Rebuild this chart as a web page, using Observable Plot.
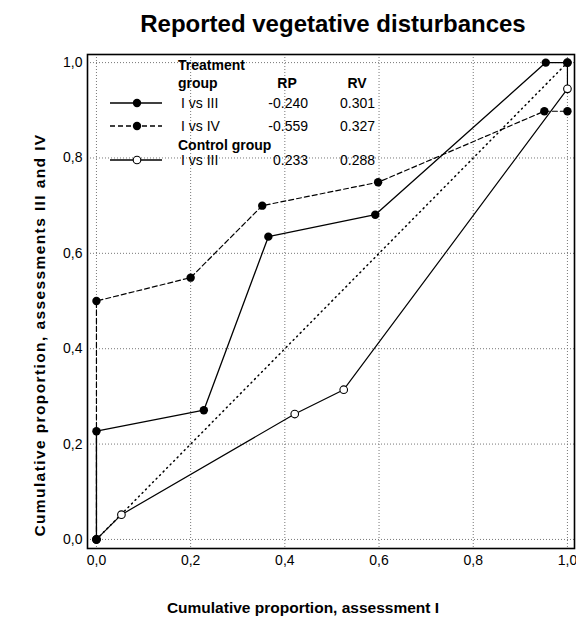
<!DOCTYPE html>
<html>
<head>
<meta charset="utf-8">
<script src="https://cdn.jsdelivr.net/npm/d3@7"></script>
<script src="https://cdn.jsdelivr.net/npm/@observablehq/plot@0.6"></script>
<style>
  html, body { margin: 0; padding: 0; background: #fff; }
  svg { font-family: "Liberation Sans", Arial, sans-serif; }
</style>
</head>
<body>
<div id="chart"></div>
<script>
// ---- data ----
const treatIIIx = [0, 0, 0.228, 0.365, 0.592, 0.954, 1.0];
const treatIIIy = [0, 0.227, 0.271, 0.635, 0.681, 1.0, 1.0];
const treatIVx  = [0, 0, 0.2, 0.352, 0.598, 0.951, 1.0];
const treatIVy  = [0, 0.5, 0.549, 0.700, 0.749, 0.898, 0.898];
const controlx  = [0, 0.053, 0.421, 0.525, 1.0, 1.0];
const controly  = [0, 0.052, 0.263, 0.314, 0.945, 1.0];
const diagx = [0, 1];
const diagy = [0, 1];
const ticks = [0, 0.2, 0.4, 0.6, 0.8, 1.0];

const legendLabels = ["I vs III", "I vs IV", "I vs III"];
const legendRP = ["-0.240", "-0.559", "0.233"];
const legendRV = ["0.301", "0.327", "0.288"];

const title = "Reported vegetative disturbances";
const xLabel = "Cumulative proportion, assessment I";
const yLabel = "Cumulative proportion, assessments III and IV";

const toPts = (xs, ys) => xs.map((x, i) => ({x, y: ys[i]}));
const sIII = toPts(treatIIIx, treatIIIy);
const sIV = toPts(treatIVx, treatIVy);
const sC = toPts(controlx, controly);
const sD = toPts(diagx, diagy);
const fmt = d => d.toFixed(1).replace(".", ",");

const W = 576, H = 617;
const mL = 87, mR = 2, mT = 54, mB = 69;

const chart = Plot.plot({
  width: W, height: H,
  marginLeft: mL, marginRight: mR, marginTop: mT, marginBottom: mB,
  style: {fontFamily: "Liberation Sans, Arial, sans-serif", fontSize: "14px", color: "#000", background: "#fff"},
  x: {domain: [-0.019, 1.015]},
  y: {domain: [-0.019, 1.017]},
  marks: [
    Plot.ruleX(ticks, {stroke: "#777", strokeWidth: 1, strokeDasharray: "1,2"}),
    Plot.ruleY(ticks, {stroke: "#777", strokeWidth: 1, strokeDasharray: "1,2"}),
    Plot.line(sD, {x: "x", y: "y", stroke: "#000", strokeWidth: 1.5, strokeDasharray: "1,4", strokeLinecap: "round"}),
    Plot.line(sC, {x: "x", y: "y", stroke: "#000", strokeWidth: 1.2}),
    Plot.dot(sC, {x: "x", y: "y", r: 3.8, fill: "#fff", stroke: "#000", strokeWidth: 1.1}),
    Plot.line(sIV, {x: "x", y: "y", stroke: "#000", strokeWidth: 1.2, strokeDasharray: "5,3"}),
    Plot.dot(sIV, {x: "x", y: "y", r: 4.2, fill: "#000", stroke: "none"}),
    Plot.line(sIII, {x: "x", y: "y", stroke: "#000", strokeWidth: 1.3}),
    Plot.dot(sIII, {x: "x", y: "y", r: 4.2, fill: "#000", stroke: "none"}),
    Plot.frame({stroke: "#000", strokeWidth: 1.6}),
    Plot.axisX({ticks, tickFormat: fmt, tickSize: 0, tickPadding: 7, label: null, fontSize: 14}),
    Plot.axisY({ticks, tickFormat: fmt, tickSize: 0, tickPadding: 5, label: null, fontSize: 14})
  ]
});
document.getElementById("chart").appendChild(chart);

const svg = d3.select(chart);
const ff = "Liberation Sans, Arial, sans-serif";

// title and axis labels
svg.append("text").attr("x", 333).attr("y", 32).attr("text-anchor", "middle")
  .attr("font-family", ff).attr("font-size", 24).attr("font-weight", "bold").attr("fill", "#000").text(title);
svg.append("text").attr("x", 303).attr("y", 613).attr("text-anchor", "middle")
  .attr("font-family", ff).attr("font-size", 15.5).attr("font-weight", "bold").attr("fill", "#000").text(xLabel);
svg.append("text").attr("transform", "translate(45,335) rotate(-90)").attr("text-anchor", "middle")
  .attr("font-family", ff).attr("font-size", 15.5).attr("font-weight", "bold").attr("letter-spacing", 1.4)
  .attr("fill", "#000").text(yLabel);

// legend
const lg = svg.append("g").attr("font-family", ff).attr("font-size", 14).attr("fill", "#000")
  .attr("text-anchor", "start");
const txt = (x, y, t, anchor = "start", weight = "normal") => lg.append("text").attr("x", x).attr("y", y)
  .attr("text-anchor", anchor).attr("font-weight", weight).text(t);
txt(178, 70, "Treatment", "start", "bold");
txt(178, 88, "group", "start", "bold");
txt(287, 88, "RP", "middle", "bold");
txt(357, 88, "RV", "middle", "bold");
txt(178, 150, "Control group", "start", "bold");

const rowY = [103, 126, 160];
const dashes = [null, "5,3", null];
const filled = [true, true, false];
rowY.forEach((y, i) => {
  const l = lg.append("line").attr("x1", 110).attr("x2", 162).attr("y1", y).attr("y2", y)
    .attr("stroke", "#000").attr("stroke-width", 1.3);
  if (dashes[i]) l.attr("stroke-dasharray", dashes[i]);
  lg.append("circle").attr("cx", 137).attr("cy", y).attr("r", filled[i] ? 4.2 : 3.8)
    .attr("fill", filled[i] ? "#000" : "#fff").attr("stroke", "#000").attr("stroke-width", filled[i] ? 0 : 1.1);
  txt(181, y + 5, legendLabels[i]);
  txt(308, y + 5, legendRP[i], "end");
  txt(375, y + 5, legendRV[i], "end");
});
</script>
</body>
</html>
